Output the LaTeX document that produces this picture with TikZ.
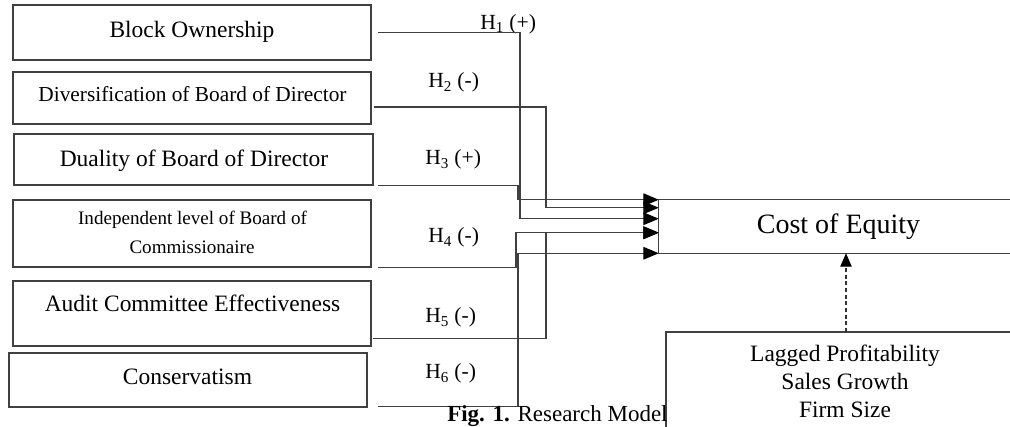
\documentclass[tikz,border=0pt]{standalone}
\usepackage{fontspec}
\setmainfont{Liberation Serif}
\usetikzlibrary{arrows.meta,calc}
\newcommand\fbig{\fontsize{17.6}{21}\selectfont}
\newcommand\fmid{\fontsize{16}{19}\selectfont}
\newcommand\fsml{\fontsize{14.3}{17}\selectfont}
\newcommand\fcoe{\fontsize{21}{25}\selectfont}
\newcommand\fhyp{\fontsize{16.2}{19}\selectfont}
\newcommand\fcap{\fontsize{17.25}{20}\selectfont}
\begin{document}
\begin{tikzpicture}[x=0.75pt,y=-0.75pt,
  boxline/.style={draw=black!75, line width=0.9pt},
  ibox/.style={boxline, inner sep=0pt, minimum width=268.5pt},
  txt/.style={inner sep=0pt, anchor=base},
  hyp/.style={inner sep=0pt, anchor=base west, font=\fhyp},
  conn/.style={draw=black!75, line width=0.8pt},
  arr/.style={conn, -{Triangle[length=11.5pt,width=9.5pt,color=black]}},
  darr/.style={draw=black!80, line width=0.8pt, dash pattern=on 3pt off 2pt, -{Triangle[length=10pt,width=8.5pt,color=black]}}
]
\useasboundingbox (0,0) rectangle (1010,427);

% left boxes
\node[ibox, minimum height=41.25pt] (b1) at (192,32.5) {};
\node[ibox, minimum height=39pt] (b2) at (192,98) {};
\node[ibox, minimum width=269.25pt, minimum height=38.25pt] (b3) at (193.5,159.5) {};
\node[ibox, minimum height=50.25pt] (b4) at (192,233.5) {};
\node[ibox, minimum height=48.75pt] (b5) at (192,313.5) {};
\node[ibox, minimum height=40.5pt] (b6) at (188,380) {};

\node[txt, font=\fbig] (t1) at (192,37.3) {Block Ownership};
\node[txt, font=\fmid] (t2) at (192.5,101.7) {Diversification of Board of Director};
\node[txt, font=\fbig] (t3) at (194,167) {Duality of Board of Director};
\node[txt, font=\fsml] (t4a) at (192.5,225) {Independent level of Board of};
\node[txt, font=\fsml] (t4b) at (192,254) {Commissionaire};
\node[txt, font=\fbig] (t5) at (192.5,312) {Audit Committee Effectiveness};
\node[txt, font=\fbig] (t6) at (187.5,385) {Conservatism};

% hypothesis labels
\node[hyp] (h1) at (480,29.3) {H\textsubscript{1} (+)};
\node[hyp] (h2) at (428,88) {H\textsubscript{2} (-)};
\node[hyp] (h3) at (425,165) {H\textsubscript{3} (+)};
\node[hyp] (h4) at (428,243) {H\textsubscript{4} (-)};
\node[hyp] (h5) at (425,323) {H\textsubscript{5} (-)};
\node[hyp] (h6) at (425,379) {H\textsubscript{6} (-)};

% Cost of Equity (open to the right)
\coordinate (edge) at (1010,0);
\node[inner sep=0pt, minimum width=269.25pt, minimum height=39.75pt, font=\fcoe] (ce) at (838.5,226.5) {Cost of Equity};
\draw[boxline] (ce.north west -| edge) -- (ce.north west) -- (ce.south west) -- (ce.south west -| edge);

% control variables box (open to the right and bottom)
\coordinate (cb) at (666,332);
\coordinate (cbot) at (0,427);
\draw[boxline] (cb |- cbot) -- (cb) -- (cb -| edge);
\node[txt, font=\fbig] (c1) at (845,362) {Lagged Profitability};
\node[txt, font=\fbig] (c2) at (845,390) {Sales Growth};
\node[txt, font=\fbig] (c3) at (845,417) {Firm Size};
\coordinate (ctop) at (846,332);
\draw[darr] (ctop) -- (ctop |- ce.south);

% connector bends
\coordinate (k1) at (520,0);
\coordinate (k2) at (546,0);
\coordinate (k3) at (518,0);
\coordinate (k4) at (516,0);
\coordinate (k5) at (546,0);
\coordinate (k6) at (518,0);

% arrow ends on Cost of Equity
\coordinate (e3) at (ce.north west);
\coordinate (e2) at ($(ce.north west)+(0,8)$);
\coordinate (e1) at ($(ce.north west)+(0,19)$);
\coordinate (e4) at ($(ce.north west)+(0,33)$);
\coordinate (e6) at (ce.south west);

% starts
\coordinate (s1) at ($(b1.east)+(6,0)$);
\coordinate (s2) at ($(b2.east)+(2,9)$);
\coordinate (s3) at ($(b3.south east)+(4,0)$);
\coordinate (s4) at ($(b4.south east)+(6,0)$);
\coordinate (s5) at ($(b5.south east)+(1,-8)$);
\coordinate (s6) at ($(b6.south east)+(10,-1)$);

\draw[arr] (s1) -| (k1 |- e1) -- (e1);
\draw[arr] (s2) -| (k2 |- e2) -- (e2);
\draw[arr] (s3) -| (k3 |- e3) -- (e3);
\draw[arr] (s4) -| (k4 |- e4) -- (e4);
\draw[arr] (s5) -| (k5 |- e4) -- (e4);
\draw[arr] (s6) -| (k6 |- e6) -- (e6);

% caption
\node[inner sep=0pt, anchor=base west, font=\fcap] (cap) at (447,421.5) {\textbf{Fig. 1.} Research Model};
\end{tikzpicture}
\end{document}
